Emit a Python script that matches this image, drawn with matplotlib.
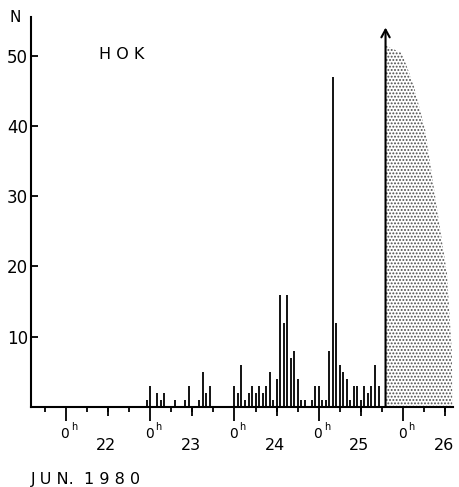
import numpy as np
import matplotlib
matplotlib.use('Agg')
import matplotlib.pyplot as plt

# hourly counts, hour 0 = 0h 22 Jun 1980
burst_hours = [23, 24, 26, 27, 28, 31, 34, 35, 38, 39, 40, 41,
               48, 49, 50, 51, 52, 53, 54, 55, 56, 57, 58, 59, 60, 61, 62,
               63, 64, 65, 66, 67, 68,
               70, 71, 72, 73, 74, 75, 76, 77, 78, 79, 80, 81, 82, 83, 84,
               85, 86, 87, 88, 89]
burst_counts = [1, 3, 2, 1, 2, 1, 1, 3, 1, 5, 2, 3,
                3, 2, 6, 1, 2, 3, 2, 3, 2, 3, 5, 1, 4, 16, 12,
                16, 7, 8, 4, 1, 1,
                1, 3, 3, 1, 1, 8, 47, 12, 6, 5, 4, 1, 3, 3, 1,
                3, 2, 3, 6, 3]

# saturated part (stippled envelope)
shade_hours = [91, 91.5, 95.6, 98.9, 102.3, 105.6, 108.5, 109.9, 110.0]
shade_top = [51.5, 51.3, 50.4, 46.0, 39.4, 28.4, 19.0, 7.6, 0.0]
arrow_hour = 91
arrow_top = 54

days = ['22', '23', '24', '25', '26']
day_start = [0, 24, 48, 72, 96]
y_ticks = [10, 20, 30, 40, 50]

plt.rcParams['font.family'] = 'DejaVu Sans'
plt.rcParams['hatch.linewidth'] = 0.9
plt.rcParams['hatch.color'] = '0.3'

fig = plt.figure(figsize=(4.6, 4.87), dpi=100)
ax = fig.add_axes([31 / 460, 80 / 487, 422 / 460, 390 / 487])
ax.set_xlim(-9.9, 110.2)
ax.set_ylim(0, 55.5)

ax.vlines(burst_hours, 0, burst_counts, colors='black', lw=1.3)

ax.fill_between(shade_hours, 0, shade_top, facecolor='white',
                hatch='.....', edgecolor='0.3', lw=0)
ax.annotate('', xy=(arrow_hour, arrow_top), xytext=(arrow_hour, 0),
            arrowprops=dict(arrowstyle='->,head_length=0.55,head_width=0.3',
                            lw=1.5, color='black', shrinkA=0, shrinkB=0))

for s in ['top', 'right']:
    ax.spines[s].set_visible(False)
for s in ['left', 'bottom']:
    ax.spines[s].set_linewidth(1.5)

ax.set_yticks(y_ticks)
ax.set_yticklabels([str(v) for v in y_ticks], fontsize=12)
ax.tick_params(axis='y', direction='in', length=5, width=1.3, pad=2)

ax.set_xticks(day_start)
ax.set_xticklabels([])
ax.set_xticks(np.arange(-6, 111, 6), minor=True)
ax.tick_params(axis='x', which='major', direction='out', length=10, width=1.3)
ax.tick_params(axis='x', which='minor', direction='out', length=3.5, width=1.3)
sec = ax.secondary_xaxis('bottom')
sec.set_xticks([d + 12 for d in [-24] + day_start])
sec.set_xticklabels([])
sec.spines['bottom'].set_visible(False)
sec.tick_params(axis='x', direction='out', length=6.5, width=1.3)

for d, lab in zip(day_start, days):
    ax.text(d - 0.3, -3.8, '0', ha='center', va='center', fontsize=10, clip_on=False)
    ax.text(d + 1.4, -2.9, 'h', ha='left', va='center', fontsize=7, clip_on=False)
    ax.text(d + 11.5, -5.5, lab, ha='center', va='center', fontsize=11.5, clip_on=False)

ax.text(-14.5, 55.5, 'N', ha='center', va='center', fontsize=11)
ax.text(16, 50.2, 'H O K', ha='center', va='center', fontsize=11.5)
ax.text(-10, -10.3, 'J U N.  1 9 8 0', ha='left', va='center', fontsize=11.5, clip_on=False)

fig.savefig('out.png', dpi=100)
